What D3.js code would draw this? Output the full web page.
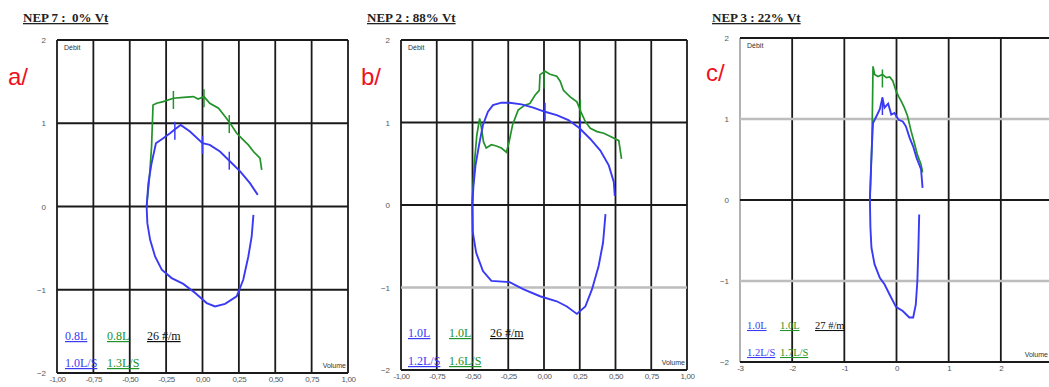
<!DOCTYPE html>
<html>
<head>
<meta charset="utf-8">
<script src="https://cdn.jsdelivr.net/npm/d3@7"></script>
<style>
  body { margin: 0; background: #fff; }
  svg { display: block; }
  .tick-label { font-family: 'Liberation Sans', Arial, sans-serif; font-size: 8px; fill: #555; }
  .title { font-family: 'Liberation Serif', serif; font-size: 13px; font-weight: bold; text-decoration: underline; fill: #222; }
  .legend { font-family: 'Liberation Serif', serif; font-size: 12px; text-decoration: underline; }
  .panel-tag { font-family: 'Liberation Sans', Arial, sans-serif; font-size: 24px; fill: #ee1122; }
  .small { font-family: 'Liberation Sans', Arial, sans-serif; font-size: 7px; fill: #333; }
</style>
</head>
<body>
<div id="chart"></div>
<script>
// ---- data (volume L, flow L/s) ----
const aBlueExp = [[-0.384, 0], [-0.372, 0.28], [-0.35, 0.52], [-0.32, 0.76], [-0.27, 0.82], [-0.223, 0.88], [-0.18, 0.94],
  [-0.15, 0.98], [-0.086, 0.90], [0.0, 0.76], [0.05, 0.74], [0.12, 0.66], [0.19, 0.54], [0.26, 0.42], [0.326, 0.28], [0.38, 0.14]];
const aBlueInsp = [[-0.384, 0], [-0.379, -0.2], [-0.36, -0.40], [-0.326, -0.60], [-0.28, -0.76], [-0.212, -0.86], [-0.132, -0.93],
  [-0.05, -1.04], [0.029, -1.16], [0.086, -1.2], [0.155, -1.17], [0.235, -1.08], [0.28, -0.88], [0.315, -0.60], [0.338, -0.36], [0.35, -0.10]];
const aGreen = [[-0.384, 0], [-0.366, 0.32], [-0.35, 0.72], [-0.34, 1.22], [-0.315, 1.24], [-0.27, 1.26], [-0.2, 1.30], [-0.13, 1.31],
  [-0.063, 1.32], [-0.03, 1.29], [0.01, 1.32], [0.05, 1.24], [0.11, 1.18], [0.155, 1.08], [0.19, 1.0], [0.235, 0.88], [0.28, 0.80],
  [0.315, 0.74], [0.35, 0.66], [0.395, 0.58], [0.407, 0.44]];
const aBlueMarks = [[-0.19, 0.91], [0.0, 0.74], [0.184, 0.55]];
const aGreenMarks = [[-0.2, 1.28], [0.01, 1.30], [0.184, 0.99]];

const bBlueExp = [[-0.502, 0], [-0.493, 0.235], [-0.479, 0.48], [-0.455, 0.72], [-0.427, 0.97], [-0.392, 1.13], [-0.357, 1.21],
  [-0.298, 1.24], [-0.24, 1.24], [-0.157, 1.22], [-0.075, 1.18], [0.007, 1.13], [0.089, 1.09], [0.171, 1.03], [0.249, 0.93],
  [0.324, 0.80], [0.394, 0.66], [0.453, 0.48], [0.488, 0.28], [0.495, 0.11]];
const bBlueInsp = [[-0.502, 0], [-0.498, -0.33], [-0.474, -0.58], [-0.427, -0.80], [-0.368, -0.92], [-0.24, -0.935], [-0.146, -1.02],
  [-0.028, -1.106], [0.089, -1.167], [0.16, -1.23], [0.23, -1.32], [0.289, -1.23], [0.336, -1.02], [0.382, -0.74], [0.413, -0.455], [0.43, -0.11]];
const bGreen = [[-0.502, 0], [-0.498, 0.17], [-0.486, 0.52], [-0.47, 0.845], [-0.45, 1.05], [-0.439, 0.95], [-0.423, 0.765],
  [-0.404, 0.69], [-0.368, 0.73], [-0.333, 0.715], [-0.298, 0.69], [-0.263, 0.64], [-0.244, 0.765], [-0.22, 0.97], [-0.181, 1.15],
  [-0.134, 1.21], [-0.099, 1.23], [-0.063, 1.33], [-0.033, 1.39], [-0.028, 1.58], [0.007, 1.62], [0.042, 1.585], [0.089, 1.56],
  [0.113, 1.50], [0.136, 1.39], [0.183, 1.31], [0.23, 1.25], [0.258, 1.13], [0.289, 1.01], [0.324, 0.93], [0.371, 0.89],
  [0.418, 0.87], [0.465, 0.83], [0.523, 0.78], [0.542, 0.56]];
const bBlueMarks = [[0.007, 1.13], [0.254, 0.92]];
const bGreenMarks = [[0.0, 1.52], [0.254, 1.17]];

const cBlueExp = [[-0.51, 0], [-0.49, 0.36], [-0.47, 0.69], [-0.45, 0.95], [-0.38, 1.04], [-0.32, 1.12], [-0.27, 1.26], [-0.23, 1.14],
  [-0.16, 1.19], [-0.10, 1.055], [-0.04, 1.075], [0.04, 0.99], [0.12, 0.97], [0.18, 0.91], [0.25, 0.77], [0.32, 0.66], [0.385, 0.52],
  [0.47, 0.38], [0.50, 0.15]];
const cBlueInsp = [[-0.51, 0], [-0.5, -0.34], [-0.48, -0.59], [-0.42, -0.795], [-0.32, -0.96], [-0.23, -1.04], [-0.13, -1.17],
  [-0.01, -1.32], [0.12, -1.37], [0.245, -1.45], [0.32, -1.45], [0.37, -1.29], [0.40, -1.0], [0.42, -0.59], [0.435, -0.18]];
const cGreen = [[-0.51, 0], [-0.49, 0.36], [-0.47, 0.73], [-0.45, 1.65], [-0.42, 1.55], [-0.355, 1.525], [-0.27, 1.55], [-0.195, 1.51],
  [-0.13, 1.52], [-0.07, 1.47], [-0.006, 1.34], [0.04, 1.28], [0.09, 1.22], [0.15, 1.14], [0.21, 1.04], [0.28, 0.85], [0.34, 0.71],
  [0.40, 0.56], [0.47, 0.44], [0.50, 0.34]];
const cBlueMarks = [[-0.27, 1.16]];
const cGreenMarks = [[-0.27, 1.5]];

const yTicks = [2, 1, 0, -1, -2];
const abXTicks = [-1, -0.75, -0.5, -0.25, 0, 0.25, 0.5, 0.75, 1];
const abXLabels = ['-1,00', '-0,75', '-0,50', '-0,25', '0,00', '0,25', '0,50', '0,75', '1,00'];
const cXTicks = [-3, -2, -1, 0, 1, 2, 3];
const cXLabels = ['-3', '-2', '-1', '0', '1', '2', ''];

const titles = ['NEP 7 :  0% Vt', 'NEP 2 : 88% Vt', 'NEP 3 : 22% Vt'];
const tags = ['a/', 'b/', 'c/'];
const legendVolume = [['0.8L', '0.8L', '26 #/m'], ['1.0L', '1.0L', '26 #/m'], ['1.0L', '1.0L', '27 #/m']];
const legendFlow = [['1.0L/S', '1.3L/S'], ['1.2L/S', '1.6L/S'], ['1.2L/S', '1.7L/S']];

const BLUE = '#3a3af5';
const GREEN = '#22922a';

const svg = d3.select('#chart').append('svg')
  .attr('width', 1049)
  .attr('height', 387);

const panels = [
  { left: 57, right: 348, top: 40, bottom: 373, xDomain: [-1, 1], xTicks: abXTicks, xLabels: abXLabels,
    grayY: [], grayLeft: false, title: [23, 22], tag: [8, 85], leg: [65, 107, 147], legY: [340, 367], volX: 346,
    blueExp: aBlueExp, blueInsp: aBlueInsp, green: aGreen, blueMarks: aBlueMarks, greenMarks: aGreenMarks, fs: 12 },
  { left: 401, right: 687, top: 40, bottom: 370, xDomain: [-1, 1], xTicks: abXTicks, xLabels: abXLabels,
    grayY: [-1], grayLeft: false, title: [367, 22], tag: [361, 85], leg: [408, 449, 490], legY: [337, 365], volX: 685,
    blueExp: bBlueExp, blueInsp: bBlueInsp, green: bGreen, blueMarks: bBlueMarks, greenMarks: bGreenMarks, fs: 12 },
  { left: 740, right: 1053, top: 38, bottom: 362, xDomain: [-3, 3], xTicks: cXTicks, xLabels: cXLabels,
    grayY: [1, -1], grayLeft: true, title: [712, 22], tag: [706, 81], leg: [747, 780, 815], legY: [329, 356], volX: 1048,
    blueExp: cBlueExp, blueInsp: cBlueInsp, green: cGreen, blueMarks: cBlueMarks, greenMarks: cGreenMarks, fs: 10.5 }
];

panels.forEach((p, i) => {
  const x = d3.scaleLinear().domain(p.xDomain).range([p.left, p.right]);
  const y = d3.scaleLinear().domain([-2, 2]).range([p.bottom, p.top]);
  const g = svg.append('g');

  // grid
  g.selectAll('.vgrid')
    .data(p.xTicks)
    .enter()
    .append('line')
    .attr('x1', d => x(d)).attr('x2', d => x(d))
    .attr('y1', p.top).attr('y2', p.bottom)
    .attr('stroke', (d, j) => (j === 0 && p.grayLeft) ? '#aaa' : '#1a1a1a')
    .attr('stroke-width', 1.8);

  g.selectAll('.hgrid')
    .data(yTicks)
    .enter()
    .append('line')
    .attr('x1', p.left).attr('x2', p.right)
    .attr('y1', d => y(d)).attr('y2', d => y(d))
    .attr('stroke', d => p.grayY.includes(d) ? '#bdbdbd' : '#1a1a1a')
    .attr('stroke-width', d => p.grayY.includes(d) ? 2.4 : 1.8);

  // axes labels
  const yAxis = g.append('g')
    .attr('transform', `translate(${p.left - 11},0)`)
    .call(d3.axisLeft(y).tickValues(yTicks).tickSize(0).tickPadding(0).tickFormat(d3.format('d')));
  yAxis.select('.domain').remove();
  yAxis.selectAll('text').attr('class', 'tick-label').attr('font-size', null).attr('font-family', null).attr('fill', null);

  const xAxis = g.append('g')
    .attr('transform', `translate(0,${p.bottom + 3})`)
    .call(d3.axisBottom(x).tickValues(p.xTicks).tickSize(0).tickPadding(0).tickFormat((d, j) => p.xLabels[j]));
  xAxis.select('.domain').remove();
  xAxis.selectAll('text').attr('class', 'tick-label').attr('font-size', null).attr('font-family', null).attr('fill', null)
    .style('letter-spacing', '-0.4px');

  g.append('text').attr('class', 'small').attr('x', p.left + 7).attr('y', p.top + 10).text('Débit');
  g.append('text').attr('class', 'small').attr('x', p.volX).attr('y', p.bottom - 5)
    .attr('text-anchor', 'end').text('Volume');

  // curves
  const line = d3.line()
    .x(d => x(d[0]))
    .y(d => y(d[1]));

  g.append('path').attr('d', line(p.green))
    .attr('fill', 'none').attr('stroke', GREEN).attr('stroke-width', 1.7);
  [p.blueExp, p.blueInsp].forEach(s => {
    g.append('path').attr('d', line(s))
      .attr('fill', 'none').attr('stroke', BLUE).attr('stroke-width', 1.9);
  });

  g.selectAll('.bmark')
    .data(p.blueMarks)
    .enter()
    .append('line')
    .attr('x1', d => x(d[0])).attr('x2', d => x(d[0]))
    .attr('y1', d => y(d[1]) - 9).attr('y2', d => y(d[1]) + 9)
    .attr('stroke', BLUE).attr('stroke-width', 1.5);
  g.selectAll('.gmark')
    .data(p.greenMarks)
    .enter()
    .append('line')
    .attr('x1', d => x(d[0])).attr('x2', d => x(d[0]))
    .attr('y1', d => y(d[1]) - 9).attr('y2', d => y(d[1]) + 9)
    .attr('stroke', GREEN).attr('stroke-width', 1.5);

  // titles and legend
  svg.append('text').attr('class', 'title').attr('x', p.title[0]).attr('y', p.title[1])
    .style('white-space', 'pre').text(titles[i]);
  svg.append('text').attr('class', 'panel-tag').attr('x', p.tag[0]).attr('y', p.tag[1]).text(tags[i]);

  const legColors = [BLUE, GREEN, '#111'];
  legendVolume[i].forEach((t, j) => {
    g.append('text').attr('class', 'legend').attr('x', p.leg[j]).attr('y', p.legY[0])
      .attr('fill', legColors[j]).style('font-size', p.fs + 'px').text(t);
  });
  legendFlow[i].forEach((t, j) => {
    g.append('text').attr('class', 'legend').attr('x', p.leg[j]).attr('y', p.legY[1])
      .attr('fill', legColors[j]).style('font-size', p.fs + 'px').text(t);
  });
});
</script>
</body>
</html>
